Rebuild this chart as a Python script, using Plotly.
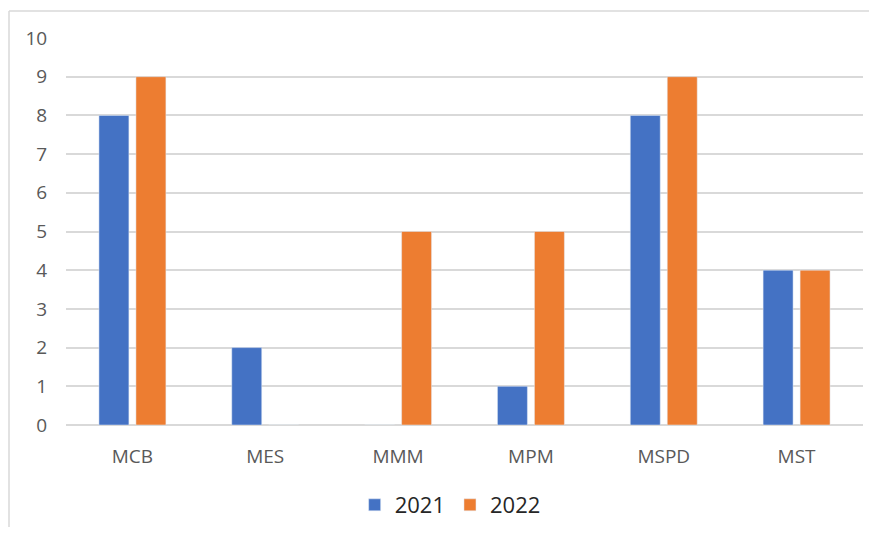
import plotly.graph_objects as go

categories = ["MCB", "MES", "MMM", "MPM", "MSPD", "MST"]
values_2021 = [8, 2, 0, 1, 8, 4]
values_2022 = [9, 0, 5, 5, 9, 4]
y_ticks = list(range(0, 11))

W, H = 861, 519
L, R, T, B = 58, 6, 30, 102
pw, ph = W - L - R, H - T - B

bx0 = (1 - L) / pw
bx1 = (W - L) / pw
by1 = (H - B - 3) / ph
border = dict(color="#D9D9D9", width=1.5)

fig = go.Figure()
fig.add_trace(go.Bar(x=categories, y=values_2021, name="2021", marker_color="#4472C4"))
fig.add_trace(go.Bar(x=categories, y=values_2022, name="2022", marker_color="#ED7D31"))

fig.update_layout(
    width=W, height=H,
    margin=dict(l=L, r=R, t=T, b=B, pad=0),
    paper_bgcolor="white", plot_bgcolor="white",
    font=dict(family="Open Sans", color="#595959"),
    barmode="group", bargap=0.443, bargroupgap=0.19,
    showlegend=True,
    legend=dict(orientation="h", x=0.482, xanchor="center",
                yref="container", y=(H - 497) / H, yanchor="middle",
                font=dict(size=22, color="#262626"), itemwidth=30, traceorder="normal"),
    xaxis=dict(showgrid=False, showline=False, ticks="outside", ticklen=14, tickcolor="rgba(0,0,0,0)",
               tickfont=dict(size=19, color="#595959")),
    yaxis=dict(range=[0, 10], tickvals=y_ticks, showgrid=True, gridcolor="#D9D9D9", gridwidth=1.5,
               zeroline=True, zerolinecolor="#D9D9D9", zerolinewidth=1.5,
               ticks="outside", ticklen=14, tickcolor="rgba(0,0,0,0)",
               tickfont=dict(size=19, color="#595959")),
    shapes=[
        dict(type="line", xref="paper", yref="paper", x0=bx0, x1=bx1, y0=by1, y1=by1,
             line=border, layer="below"),
        dict(type="line", xref="paper", yref="paper", x0=bx0, x1=bx0, y0=-B / ph, y1=by1,
             line=border, layer="below"),
    ],
)

fig.write_html("out.html")
